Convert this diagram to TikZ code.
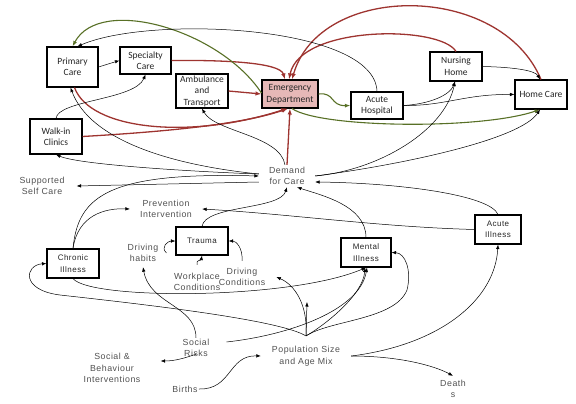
\documentclass[tikz,border=0pt]{standalone}
\usepackage{fontspec}
\newfontfamily\boxfont{Carlito}
\newfontfamily\lblfont[LetterSpace=6]{Liberation Sans}
\usetikzlibrary{arrows.meta}
\definecolor{edred}{RGB}{158,52,48}
\definecolor{edgreen}{RGB}{88,112,38}
\definecolor{edpink}{RGB}{230,184,183}
\definecolor{lblgrey}{RGB}{80,80,80}

\begin{document}
\begin{tikzpicture}[x=1pt, y=-1pt,
  box/.style={draw, line width=1.1pt, fill=white, align=center, inner sep=0.5pt, text=black!85, font=\boxfont\fontsize{9.5}{11.5}\selectfont},
  sbox/.style={box, font=\lblfont\fontsize{8}{11.5}\selectfont},
  lbl/.style={align=center, inner sep=1pt, text=lblgrey, font=\lblfont\fontsize{8.8}{11.5}\selectfont},
  arr/.style={-{Latex[length=4.5pt,width=3.5pt]}, line width=0.5pt},
  redarr/.style={-{Latex[length=6pt,width=4.5pt]}, line width=1.3pt, edred},
  grnarr/.style={-{Latex[length=5.5pt,width=4pt]}, line width=1.1pt, edgreen}
]
\useasboundingbox (0,0) rectangle (576,404);

\node[box, minimum width=51pt, minimum height=40pt] (pc) at (72.5,67) {Primary\\Care};
\node[box, minimum width=51pt, minimum height=27pt] (sc) at (145.5,60.5) {Specialty\\Care};
\node[box, minimum width=52pt, minimum height=34pt] (amb) at (202,91) {Ambulance\\and\\Transport};
\node[box, fill=edpink, minimum width=56pt, minimum height=28pt] (ed) at (290,94) {Emergency\\Department};
\node[box, minimum width=52pt, minimum height=27pt] (ah) at (377,105.5) {Acute\\Hospital};
\node[box, minimum width=52pt, minimum height=29pt] (nh) at (456,66.5) {Nursing\\Home};
\node[box, minimum width=52pt, minimum height=29pt] (hc) at (541,94.5) {Home Care};
\node[box, minimum width=52pt, minimum height=35pt] (wic) at (56,136.5) {Walk-in\\Clinics};
\node[sbox, minimum width=52pt, minimum height=29pt] (ci) at (73,263.5) {Chronic\\Illness};
\node[sbox, minimum width=52pt, minimum height=28pt] (tr) at (202,241) {Trauma};
\node[sbox, minimum width=50pt, minimum height=29pt] (mi) at (366,252.5) {Mental\\Illness};
\node[sbox, minimum width=46pt, minimum height=29pt] (ai) at (498,229.5) {Acute\\Illness};

\node[lbl, inner xsep=10pt, inner ysep=2pt] (dem) at (287,176) {Demand\\for Care};
\node[lbl, inner xsep=12pt] (ssc) at (42,186) {Supported\\Self Care};
\node[lbl, inner xsep=10pt] (pi) at (166,209) {Prevention\\Intervention};
\node[lbl] (dh) at (143,253) {Driving\\habits};
\node[lbl] (wc) at (197,282) {Workplace\\Conditions};
\node[lbl, inner xsep=11pt] (dc) at (242,277) {Driving\\Conditions};
\node[lbl, inner xsep=17pt] (sr) at (196,348) {Social\\Risks};
\node[lbl, inner xsep=20pt] (sbi) at (112,368) {Social \&\\Behaviour\\Interventions};
\node[lbl] (bir) at (185,389) {Births};
\node[lbl, inner xsep=11pt] (pop) at (306,356) {Population Size\\and Age Mix};
\node[lbl, inner ysep=4pt] (dea) at (453,389) {Death\\s};
\coordinate (popfan) at ([yshift=9pt]pop.north);
\coordinate (popup) at (307,302);

\draw[redarr] (sc.east) .. controls (220,60) and (280,62) .. ([xshift=-5pt]ed.north);
\draw[redarr] (amb.east) -- (ed.west);
\draw[redarr] ([xshift=2pt]pc.south) .. controls (90,130) and (190,140) .. ([xshift=-3pt]ed.south);
\draw[redarr] (wic.east) .. controls (160,132) and (240,125) .. ([xshift=-2pt]ed.south);
\draw[redarr] (dem.north) -- (ed.south);
\draw[redarr] (nh.north) .. controls (440,25) and (300,25) .. ([xshift=-1pt]ed.north);
\draw[redarr] (hc.north) .. controls (500,-18) and (320,-18) .. ([xshift=2pt]ed.north);

\draw[grnarr] ([yshift=1pt]ed.west) .. controls (220,30) and (100,-5) .. (pc.north);
\draw[grnarr] (ed.east) .. controls (335,92) and (330,106) .. (ah.west);
\draw[grnarr] ([xshift=2pt]ed.south) .. controls (320,128) and (480,130) .. ([xshift=-1pt]hc.south);

\draw[arr] (pc.east) -- (sc.west);
\draw[arr] (wic.north) .. controls (58,100) and (135,100) .. (sc.south);
\draw[arr] (ah.north) .. controls (375,25) and (150,15) .. ([xshift=5pt]pc.north);
\draw[arr] (nh.east) .. controls (510,67) and (535,70) .. ([xshift=-1pt]hc.north);
\draw[arr] (ah.east) .. controls (430,104) and (450,95) .. ([xshift=-1pt]nh.south);
\draw[arr] (ah.east) .. controls (445,106) and (465,94) .. (hc.west);
\draw[arr] (dem.east) .. controls (380,170) and (445,130) .. ([xshift=-1pt]nh.south);
\draw[arr] (dem.east) .. controls (400,165) and (520,140) .. ([xshift=-1pt]hc.south);
\draw[arr] (ai.north) .. controls (490,195) and (400,183) .. ([yshift=-6pt]dem.east);
\draw[arr] ([xshift=-2pt]dem.north) .. controls (280,135) and (215,132) .. (amb.south);
\draw[arr] ([yshift=2pt]dem.west) .. controls (170,165) and (90,140) .. ([xshift=-2pt]pc.south);
\draw[arr] ([yshift=2pt]dem.west) .. controls (200,172) and (80,165) .. (wic.south);
\draw[arr] ([yshift=-6pt]dem.west) -- (ssc.east);
\draw[arr] (ci.north) .. controls (78,195) and (110,172) .. (dem.west);
\draw[arr] (ci.north) .. controls (78,215) and (105,208) .. (pi.west);
\draw[arr] (ai.west) .. controls (380,227) and (290,214) .. (pi.east);
\draw[arr] (tr.north) .. controls (205,205) and (280,210) .. (dem.south);
\draw[arr] (mi.north) .. controls (366,205) and (320,195) .. ([xshift=10pt]dem.south);
\draw[arr] ([xshift=7pt]dh.east) .. controls (160,247) and (168,241) .. (tr.west);
\draw[arr] ([yshift=7pt]wc.north) .. controls (196,259) and (201,261) .. (tr.south);
\draw[arr] ([yshift=6pt]dc.north) .. controls (243,248) and (236,241) .. (tr.east);
\draw[arr] (sr.north) .. controls (196,305) and (150,305) .. ([yshift=-4pt]dh.south);
\draw[arr] ([yshift=4pt]sr.south) .. controls (185,358) and (175,361) .. ([yshift=7pt]sbi.east);
\draw[arr] ([yshift=6pt]sr.east) .. controls (290,335) and (360,310) .. ([xshift=1pt]mi.south);
\draw[arr] (ci.south) .. controls (90,300) and (290,300) .. (mi.south);
\draw[arr] (popfan) -- (popup);
\draw[arr] (popfan) .. controls (308,305) and (295,285) .. (dc.east);
\draw[arr] (popfan) .. controls (325,325) and (363,295) .. ([xshift=-1pt]mi.south);
\draw[arr] (popfan) .. controls (330,320) and (395,320) .. (407,290) .. controls (412,270) and (405,253) .. (mi.east);
\draw[arr] (popfan) .. controls (280,320) and (150,305) .. (60,295) .. controls (20,290) and (25,265) .. (ci.west);
\draw[arr] (pop.east) .. controls (440,345) and (495,300) .. (ai.south);
\draw[arr] (pop.east) .. controls (400,356) and (435,366) .. (dea.north);
\draw[arr] (bir.east) .. controls (232,390) and (228,355) .. (pop.west);
\end{tikzpicture}
\end{document}
